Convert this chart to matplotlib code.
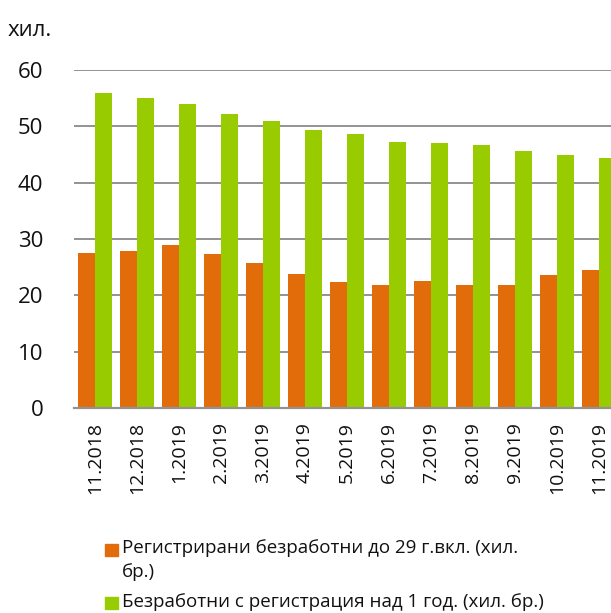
import numpy as np
import matplotlib.pyplot as plt
from matplotlib.patches import Rectangle

plt.rcParams['font.family'] = ['Open Sans', 'DejaVu Sans']

months = ['11.2018', '12.2018', '1.2019', '2.2019', '3.2019', '4.2019', '5.2019',
          '6.2019', '7.2019', '8.2019', '9.2019', '10.2019', '11.2019']
young = [27.6, 27.8, 28.9, 27.3, 25.8, 23.8, 22.3, 21.8, 22.5, 21.9, 21.8, 23.6, 24.5]
longterm = [55.9, 55.0, 54.0, 52.2, 50.9, 49.4, 48.6, 47.2, 47.1, 46.6, 45.7, 45.0, 44.4]
labels = ['Регистрирани безработни до 29 г.вкл. (хил.\nбр.)',
          'Безработни с регистрация над 1 год. (хил. бр.)']
colors = ['#E36C0A', '#99CC00']

W, H = 611, 613
fig = plt.figure(figsize=(W / 100, H / 100), dpi=100)
# axes runs past the right edge, like the cropped original
ax = fig.add_axes([74 / W, 1 - 408 / H, 546 / W, 338 / H])

x = np.arange(len(months))
ax.bar(x - 0.2, young, width=0.39, color=colors[0], zorder=3)
ax.bar(x + 0.2, longterm, width=0.39, color=colors[1], zorder=3)

ax.set_xlim(-0.5, len(months) - 0.5)
ax.set_ylim(0, 60)
ax.set_yticks(range(0, 61, 10))
ax.yaxis.grid(True, color='#939393', linewidth=1.4, zorder=0)
ax.set_axisbelow(True)
for s in ['top', 'right', 'left']:
    ax.spines[s].set_visible(False)
ax.spines['bottom'].set_color('#939393')
ax.spines['bottom'].set_linewidth(1.6)
ax.spines['bottom'].set_zorder(4)

ax.set_xticks(x)
ax.set_xticklabels(months, rotation=90)
ax.tick_params(axis='x', length=0, pad=10, labelsize=14, labelcolor='#111111')
ax.tick_params(axis='y', length=0, pad=22, labelsize=16, labelcolor='#111111')

fig.text(8 / W, 1 - 30 / H, 'хил.', fontsize=16, va='center', ha='left',
         color='#111111')

# legend drawn by hand so the wrapped first entry keeps its marker on line one
fig.patches.append(Rectangle((105 / W, 1 - 556 / H), 12.5 / W, 12.5 / H,
                             color=colors[0], transform=fig.transFigure))
fig.text(122 / W, 1 - 539 / H, labels[0], fontsize=13.5, va='top', ha='left',
         linespacing=1.4, color='#111111')
fig.patches.append(Rectangle((105 / W, 1 - 609 / H), 12.5 / W, 12.5 / H,
                             color=colors[1], transform=fig.transFigure))
fig.text(122 / W, 1 - 602 / H, labels[1], fontsize=13.5, va='center', ha='left',
         color='#111111')

fig.savefig('out.png', dpi=100)
